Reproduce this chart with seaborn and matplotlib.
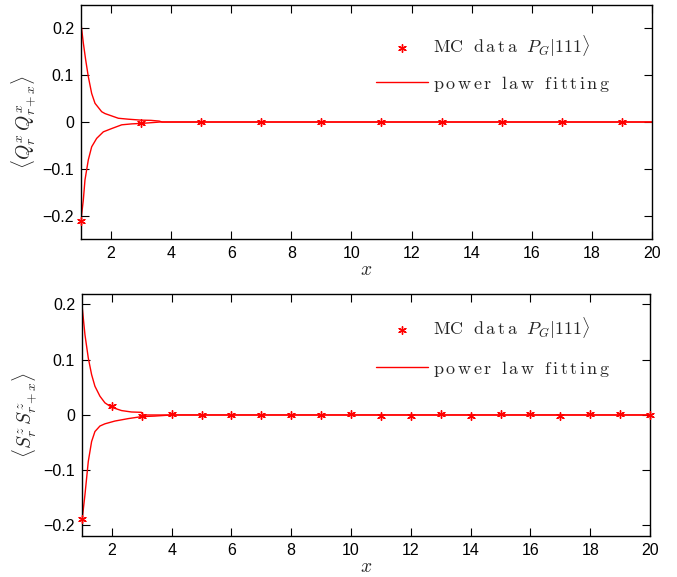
import numpy as np
import pandas as pd
import matplotlib
matplotlib.use('Agg')
import matplotlib.pyplot as plt
import seaborn as sns

# MC data, top panel  <Q^x_r Q^x_{r+x}>
q_x = [1, 3, 5, 7, 9, 11, 13, 15, 17, 19]
q_mc = [-0.212, -0.002, 0.0, 0.0, 0.0, 0.0, 0.0, 0.0, 0.0, 0.0]

# power law fits, top panel
q_up_x = [1.0, 1.078, 1.156, 1.244, 1.356, 1.467, 1.689, 1.8, 2.244, 2.578, 3.0, 3.33, 3.6, 3.7, 20.0]
q_up_y = [0.211, 0.169, 0.133, 0.097, 0.061, 0.040, 0.022, 0.018, 0.008, 0.006, 0.004, 0.0035, 0.002, 0.0, 0.0]
q_lo_x = [1.0, 1.078, 1.133, 1.244, 1.356, 1.522, 1.744, 2.022, 2.356, 2.689, 3.022, 3.633, 20.0]
q_lo_y = [-0.21, -0.167, -0.124, -0.081, -0.053, -0.035, -0.021, -0.014, -0.006, -0.004, -0.003, 0.0, 0.0]

# MC data, bottom panel  <S^z_r S^z_{r+x}>
s_x = list(range(1, 21))
s_mc = [-0.189, 0.0157, -0.0024, 0.0024, 0.0, 0.0, 0.0005, 0.0, 0.0005, 0.001,
        -0.001, -0.001, 0.001, -0.001, 0.001, 0.001, -0.0015, 0.001, 0.001, 0.0003]

# power law fits, bottom panel
s_up_x = [1.0, 1.1, 1.211, 1.322, 1.433, 1.6, 1.767, 1.989, 2.322, 2.656, 2.989, 3.04, 20.0]
s_up_y = [0.199, 0.145, 0.103, 0.073, 0.052, 0.034, 0.022, 0.014, 0.008, 0.0054, 0.0048, 0.0, 0.0]
s_lo_x = [1.0, 1.1, 1.211, 1.322, 1.433, 1.6, 1.767, 2.1, 2.544, 2.989, 3.433, 3.989, 20.0]
s_lo_y = [-0.192, -0.144, -0.084, -0.048, -0.030, -0.020, -0.016, -0.011, -0.0066, -0.003, -0.002, 0.0, 0.0]

sns.set_style('ticks')
plt.rcParams['font.family'] = ['Liberation Sans', 'DejaVu Sans']
plt.rcParams['mathtext.fontset'] = 'cm'
plt.rcParams['xtick.direction'] = 'in'
plt.rcParams['ytick.direction'] = 'in'
plt.rcParams['xtick.top'] = True
plt.rcParams['ytick.right'] = True

fig = plt.figure(figsize=(6.77, 5.77), dpi=100)
ax1 = fig.add_axes([0.1196, 0.5858, 0.8434, 0.4055])
ax2 = fig.add_axes([0.1211, 0.0711, 0.8390, 0.4194])

mc_label = r'$\mathrm{MC\ \ d\,a\,t\,a}\ \ P_G|111\rangle$'
fit_label = r'$\mathrm{p\,o\,w\,e\,r\ \ l\,a\,w\ \ f\,i\,t\,t\,i\,n\,g}$'
star = (6, 2, 0)


def panel(ax, mx, my, ux, uy, lx, ly, ylim, ylabel, leg_xy, spacing):
    sns.lineplot(x=ux, y=uy, ax=ax, color='red', lw=1.0, label=fit_label)
    sns.lineplot(x=lx, y=ly, ax=ax, color='red', lw=1.0)
    sns.scatterplot(x=mx, y=my, ax=ax, marker=star, s=30, color='red',
                    edgecolor='red', linewidth=1.0, label=mc_label, zorder=3,
                    clip_on=False)
    ax.set_xlim(1, 20)
    ax.set_ylim(*ylim)
    ax.set_xticks([2, 4, 6, 8, 10, 12, 14, 16, 18, 20])
    ax.set_yticks([-0.2, -0.1, 0, 0.1, 0.2])
    ax.set_yticklabels(['\u22120.2', '\u22120.1', '0', '0.1', '0.2'])
    ax.tick_params(labelsize=11.5, length=6, width=0.8, colors='black', pad=5)
    for sp in ax.spines.values():
        sp.set_linewidth(1.0)
        sp.set_color('black')
    ax.set_xlabel(r'$x$', fontsize=14, labelpad=1)
    ax.set_ylabel(ylabel, fontsize=14, labelpad=3)
    h, l = ax.get_legend_handles_labels()
    ax.legend([h[1], h[0]], [l[1], l[0]], loc='upper left', bbox_to_anchor=leg_xy,
              frameon=False, fontsize=13, handlelength=2.85, labelspacing=spacing,
              handletextpad=0.28, borderpad=0, borderaxespad=0)


panel(ax1, q_x, q_mc, q_up_x, q_up_y, q_lo_x, q_lo_y, (-0.25, 0.25),
      r'$\langle Q_r^x\, Q_{r+x}^x\rangle$', (0.517, 0.878), 0.8)
panel(ax2, s_x, s_mc, s_up_x, s_up_y, s_lo_x, s_lo_y, (-0.219, 0.219),
      r'$\langle S_r^z\, S_{r+x}^z\rangle$', (0.518, 0.913), 1.0)

fig.savefig('out.png', dpi=100)
